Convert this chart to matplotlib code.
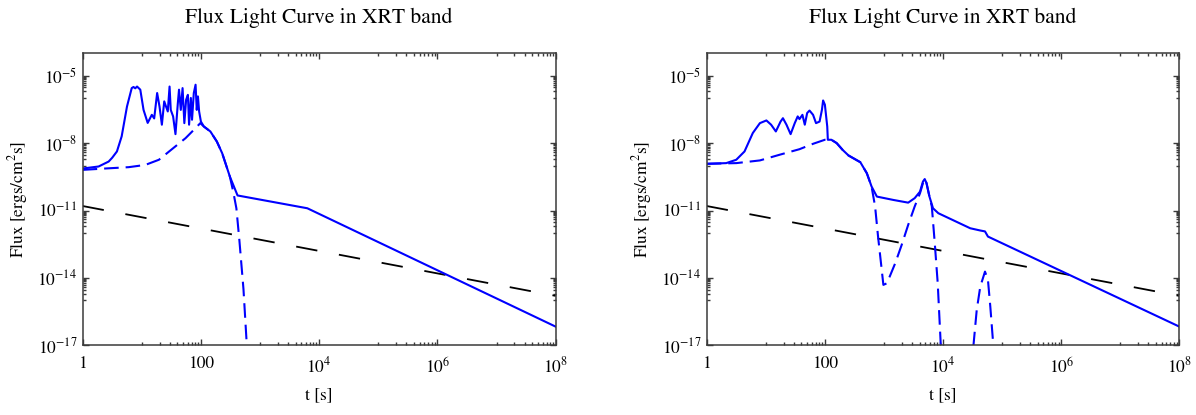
import numpy as np
import matplotlib
matplotlib.use('Agg')
import matplotlib.pyplot as plt
from matplotlib.ticker import FixedLocator, NullFormatter

# values, as log10(t [s]) and log10(flux)
LEFT_SOLID_LOGT = [0.0, 0.27, 0.44, 0.5, 0.58, 0.66, 0.75, 0.83, 0.86, 0.89, 0.92, 0.975,
                   1.03, 1.1, 1.17, 1.21, 1.26, 1.30, 1.34, 1.38, 1.41, 1.44, 1.47, 1.49,
                   1.53, 1.57, 1.61, 1.63, 1.66, 1.69, 1.72, 1.75, 1.78, 1.80, 1.83, 1.85,
                   1.88, 1.91, 1.93, 1.95, 1.97, 2.0, 2.05, 2.16, 2.27, 2.36, 2.49, 2.62,
                   3.80, 8.0]
LEFT_SOLID_LOGF = [-9.13, -9.04, -8.82, -8.65, -8.37, -7.7, -6.37, -5.55, -5.5, -5.56, -5.48,
                   -5.62, -6.52, -7.1, -6.74, -6.9, -5.77, -6.37, -7.18, -6.14, -6.37, -6.59,
                   -5.48, -6.52, -6.81, -7.6, -6.22, -5.62, -6.52, -5.55, -7.11, -6.07,
                   -5.85, -7.18, -5.99, -6.96, -5.77, -5.4, -6.52, -5.92, -6.59, -7.04,
                   -7.26, -7.48, -7.93, -8.45, -9.49, -10.33, -10.9, -16.17]

LEFT_DASH_LOGT = [0.0, 0.38, 0.78, 1.06, 1.29, 1.51, 1.74, 1.91, 1.99, 2.05, 2.16, 2.27,
                  2.36, 2.49, 2.55, 2.60, 2.65, 2.72, 2.79]
LEFT_DASH_LOGF = [-9.19, -9.13, -9.07, -8.97, -8.74, -8.27, -7.78, -7.33, -7.11, -7.26,
                  -7.48, -7.93, -8.45, -9.49, -10.2, -10.9, -12.3, -14.5, -17.6]

RIGHT_SOLID_LOGT = [0.0, 0.33, 0.5, 0.64, 0.78, 0.9, 1.01, 1.09, 1.17, 1.25, 1.29, 1.35,
                    1.42, 1.49, 1.54, 1.57, 1.62, 1.66, 1.70, 1.74, 1.80, 1.85, 1.91, 1.95,
                    1.97, 2.0, 2.04, 2.05, 2.11, 2.2, 2.3, 2.4, 2.48, 2.6, 2.71, 2.79, 2.88,
                    3.16, 3.41, 3.52, 3.61, 3.66, 3.69, 3.72, 3.77, 3.83, 3.92, 4.46, 4.63,
                    4.71, 4.76, 8.0]
RIGHT_SOLID_LOGF = [-8.92, -8.89, -8.74, -8.37, -7.55, -7.11, -6.99, -7.18, -7.48, -7.04,
                    -6.89, -7.18, -7.6, -7.11, -6.81, -6.93, -6.74, -7.18, -6.66, -6.55,
                    -6.74, -7.11, -7.04, -6.52, -6.1, -6.29, -7.26, -7.85, -7.85, -8.0,
                    -8.3, -8.55, -8.67, -8.85, -9.34, -9.93, -10.38, -10.53, -10.65,
                    -10.45, -10.16, -9.71, -9.6, -9.78, -10.38, -10.9, -11.12, -11.79,
                    -11.89, -11.93, -12.16, -16.17]

RIGHT_DASH_LOGT = [0.0, 0.5, 0.9, 1.23, 1.57, 1.80, 2.0, 2.11, 2.2, 2.3, 2.4, 2.48, 2.6,
                   2.71, 2.79, 2.85, 2.9, 2.95, 2.99, 3.05, 3.19, 3.30, 3.41, 3.52, 3.61,
                   3.66, 3.69, 3.72, 3.77, 3.81, 3.86, 3.91, 3.96, 3.99]
RIGHT_DASH_LOGF = [-8.92, -8.89, -8.77, -8.52, -8.27, -8.03, -7.85, -7.85, -8.0, -8.3,
                   -8.55, -8.67, -8.85, -9.34, -9.93, -10.82, -12.16, -13.35, -14.31,
                   -14.24, -13.35, -12.53, -11.64, -10.82, -10.23, -9.78, -9.6, -9.78,
                   -10.38, -10.82, -12.46, -14.24, -16.91, -17.6]
RIGHT_LOBE_LOGT = [4.48, 4.57, 4.63, 4.71, 4.76, 4.80, 4.88]
RIGHT_LOBE_LOGF = [-18.0, -15.43, -14.39, -13.72, -14.09, -15.28, -18.0]

BLACK_LOGT = [0.0, 8.0]
BLACK_LOGF = [-10.8, -14.8]

TITLE = 'Flux Light Curve in XRT band'
XLABEL = 't [s]'
YLABEL = 'Flux [ergs/cm$^2$s]'
X_MAJOR = [1, 1e2, 1e4, 1e6, 1e8]
X_LABELS = ['1', '100', '$10^{4}$', '$10^{6}$', '$10^{8}$']
Y_MAJOR = [1e-17, 1e-14, 1e-11, 1e-8, 1e-5]
Y_LABELS = ['$10^{-17}$', '$10^{-14}$', '$10^{-11}$', '$10^{-8}$', '$10^{-5}$']

plt.rcParams['font.family'] = ['STIXGeneral', 'DejaVu Serif']
plt.rcParams['mathtext.fontset'] = 'stix'
plt.rcParams['lines.scale_dashes'] = False

FRAME = '#3a3a3a'
BLUE = '#0000ff'


def lin(v):
    return 10.0 ** np.asarray(v)


def style(ax):
    ax.set_xscale('log')
    ax.set_yscale('log')
    ax.set_xlim(1, 1e8)
    ax.set_ylim(1e-17, 1e-4)
    ax.xaxis.set_major_locator(FixedLocator(X_MAJOR))
    ax.set_xticklabels(X_LABELS)
    ax.yaxis.set_major_locator(FixedLocator(Y_MAJOR))
    ax.set_yticklabels(Y_LABELS)
    xminor = [m * 10.0 ** k for k in (1, 3, 5, 7) for m in range(1, 10)]
    yminor = [m * 10.0 ** (k - 1) for k in (-5, -8, -11, -14) for m in range(1, 10)]
    ax.xaxis.set_minor_locator(FixedLocator(xminor))
    ax.yaxis.set_minor_locator(FixedLocator(yminor))
    ax.xaxis.set_minor_formatter(NullFormatter())
    ax.yaxis.set_minor_formatter(NullFormatter())
    ax.tick_params(which='both', direction='in', top=True, right=True,
                   color=FRAME, labelsize=12.5, width=1.0)
    ax.tick_params(which='major', length=4.5)
    ax.tick_params(axis='x', which='major', pad=8)
    ax.tick_params(axis='y', which='major', pad=4)
    ax.tick_params(which='minor', length=2)
    for s in ax.spines.values():
        s.set_color(FRAME)
        s.set_linewidth(1.1)
    ax.set_title(TITLE, fontsize=15.5, pad=22)
    ax.set_xlabel(XLABEL, fontsize=12.5)
    ax.set_ylabel(YLABEL, fontsize=12.5)
    ax.xaxis.set_label_coords(0.5, -0.145)
    ax.yaxis.set_label_coords(-0.112, 0.5)


def main():
    fig = plt.figure(figsize=(11.96, 4.15), dpi=100)
    axL = fig.add_axes([0.0691, 0.168, 0.3955, 0.7036])
    axR = fig.add_axes([0.5909, 0.168, 0.3952, 0.7036])

    blue_dash = (0, (10.5, 5.0))
    black_dash = (0, (15.5, 15.8))

    axL.plot(lin(BLACK_LOGT), lin(BLACK_LOGF), color='black', lw=1.3, ls=black_dash)
    axL.plot(lin(LEFT_DASH_LOGT), lin(LEFT_DASH_LOGF), color=BLUE, lw=1.5, ls=blue_dash)
    axL.plot(lin(LEFT_SOLID_LOGT), lin(LEFT_SOLID_LOGF), color=BLUE, lw=1.5)

    axR.plot(lin(BLACK_LOGT), lin(BLACK_LOGF), color='black', lw=1.3, ls=black_dash)
    axR.plot(lin(RIGHT_DASH_LOGT), lin(RIGHT_DASH_LOGF), color=BLUE, lw=1.5, ls=blue_dash)
    axR.plot(lin(RIGHT_LOBE_LOGT), lin(RIGHT_LOBE_LOGF), color=BLUE, lw=1.5, ls=blue_dash)
    axR.plot(lin(RIGHT_SOLID_LOGT), lin(RIGHT_SOLID_LOGF), color=BLUE, lw=1.5)

    for ax in (axL, axR):
        style(ax)

    fig.savefig('out.png', dpi=100, facecolor='white')


if __name__ == '__main__':
    main()
